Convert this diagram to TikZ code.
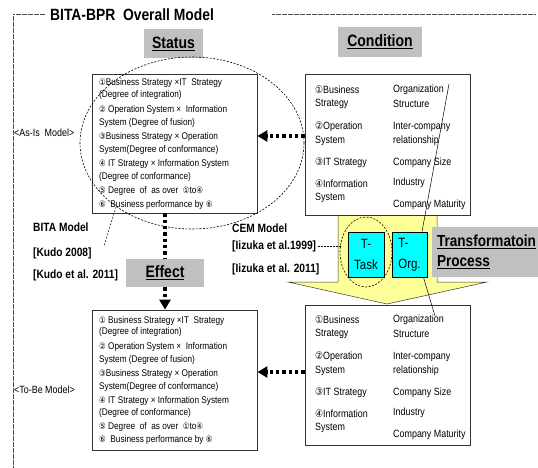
\documentclass[tikz,border=0pt]{standalone}
\usepackage{fontspec}
\setmainfont{Liberation Sans}[FakeStretch=0.85]
\newfontfamily\symf{DejaVu Sans}[FakeStretch=0.85]
\usetikzlibrary{arrows.meta,shapes.geometric,calc}
\newcommand\cn[1]{{\symf\fontsize{8.8}{9}\selectfont #1}}
\definecolor{hdr}{HTML}{C0C0C0}
\definecolor{yel}{HTML}{FFFF99}
\definecolor{cya}{HTML}{00FFFF}
\tikzset{
  box/.style={draw=black!80, line width=0.8pt, fill=white, inner sep=0pt},
  hdrbox/.style={fill=hdr, inner sep=0pt, font=\fontsize{16.5}{18}\selectfont\bfseries},
  lt/.style={anchor=west, inner sep=0pt, font=\fontsize{9.7}{10}\selectfont},
  rt/.style={anchor=west, inner sep=0pt, font=\fontsize{10.5}{12}\selectfont},
  lab/.style={anchor=west, inner sep=0pt, font=\fontsize{12}{14}\selectfont\bfseries},
  side/.style={anchor=west, inner sep=0pt, font=\fontsize{10.5}{12}\selectfont},
  frameline/.style={draw=black!70, line width=0.5pt, dash pattern=on 0.6pt off 0.6pt},
  bigdot/.style={line width=3.4pt, dash pattern=on 3.3pt off 3pt, -{Triangle[length=10pt,width=11pt]}},
  bigdotplain/.style={line width=3.4pt, dash pattern=on 3.3pt off 3pt},
  tbox/.style={draw=black, line width=0.8pt, fill=cya, inner sep=0pt, font=\fontsize{13.5}{21}\selectfont},
  dashell/.style={draw=black, line width=0.6pt, dash pattern=on 2pt off 1.5pt, ellipse, inner sep=0pt},
  thin/.style={draw=black, line width=0.5pt}
}
\begin{document}
\begin{tikzpicture}[x=1pt,y=-1pt]
\useasboundingbox (0,0) rectangle (538,467);
% frame and title
\node[anchor=west, inner sep=0pt, font=\fontsize{16.3}{18}\selectfont\bfseries] (title) at (50,15) {BITA-BPR\ \ Overall Model};
\coordinate (fbl) at (13,467);
\coordinate (fr1) at (272,14);
\coordinate (fr2) at (535,14);
\draw[frameline] ([xshift=-5pt,yshift=1pt]title.west) -- (13,14) -- (fbl);
\draw[frameline] (fr1) -- (fr2);
% yellow block arrow
\draw[fill=yel, draw=black!80, line width=0.5pt] (338,215) -- (437,215) -- (437,282) -- (487,282) -- (387,304) -- (288,282) -- (338,282) -- cycle;
% headers
\node[hdrbox, minimum width=59pt, minimum height=29pt] (hs) at (173.5,43.5) {\underline{Status}};
\node[hdrbox, minimum width=84pt, minimum height=30pt] (hc) at (380,42) {\underline{Condition}};
\node[hdrbox, minimum width=78pt, minimum height=28pt] (ef) at (165,273) {\underline{Effect}};
% boxes
\node[box, minimum width=165pt, minimum height=139pt] (s1) at (174.5,143.5) {};
\node[box, minimum width=165pt, minimum height=140pt] (s2) at (174.5,380) {};
\node[box, minimum width=165pt, minimum height=141pt] (c1) at (387.5,144.5) {};
\node[box, minimum width=165pt, minimum height=140pt] (c2) at (387.5,375) {};
% upper-left texts
\node[lt] (u1) at (99,83) {\cn{①}Business Strategy ×IT\ \ Strategy};
\node[lt] (u2) at (99,95) {(Degree of integration)};
\node[lt] (u3) at (99,110) {\cn{②} Operation System ×\ \ Information};
\node[lt] (u4) at (99,123) {System (Degree of fusion)};
\node[lt] (u5) at (99,137) {\cn{③}Business Strategy × Operation};
\node[lt] (u6) at (99,150) {System(Degree of conformance)};
\node[lt] (u7) at (99,164) {\cn{④} IT Strategy × Information System};
\node[lt] (u8) at (99,177) {(Degree of conformance)};
\node[lt] (u9) at (99,191) {\cn{⑤} Degree\ \ of\ \ as over\ \ \cn{①}to\cn{④}};
\node[lt] (u10) at (99,205) {\cn{⑥}\ \ Business performance by \cn{⑥}};
% lower-left texts
\node[lt] (d1) at (99,321) {\cn{①} Business Strategy ×IT\ \ Strategy};
\node[lt] (d2) at (99,332) {(Degree of integration)};
\node[lt] (d3) at (99,347) {\cn{②} Operation System ×\ \ Information};
\node[lt] (d4) at (99,360) {System (Degree of fusion)};
\node[lt] (d5) at (99,374) {\cn{③}Business Strategy × Operation};
\node[lt] (d6) at (99,387) {System(Degree of conformance)};
\node[lt] (d7) at (99,401) {\cn{④} IT Strategy × Information System};
\node[lt] (d8) at (99,413) {(Degree of conformance)};
\node[lt] (d9) at (99,427) {\cn{⑤} Degree\ \ of\ \ as over\ \ \cn{①}to\cn{④}};
\node[lt] (d10) at (99,440) {\cn{⑥}\ \ Business performance by \cn{⑥}};
% upper-right texts
\node[rt] (a1) at (315,90) {{\symf ①}Business};
\node[rt] (a2) at (315,104) {Strategy};
\node[rt] (a3) at (315,127) {{\symf ②}Operation};
\node[rt] (a4) at (315,141) {System};
\node[rt] (a5) at (315,163) {{\symf ③}IT Strategy};
\node[rt] (a6) at (315,184) {{\symf ④}Information};
\node[rt] (a7) at (315,198) {System};
\node[rt] (b1) at (393,90) {Organization};
\node[rt] (b2) at (393,104) {Structure};
\node[rt] (b3) at (393,127) {Inter-company};
\node[rt] (b4) at (393,141) {relationship};
\node[rt] (b5) at (393,163) {Company Size};
\node[rt] (b6) at (393,183) {Industry};
\node[rt] (b7) at (393,205) {Company Maturity};
% lower-right texts
\node[rt] (e1) at (315,320) {{\symf ①}Business};
\node[rt] (e2) at (315,334) {Strategy};
\node[rt] (e3) at (315,357) {{\symf ②}Operation};
\node[rt] (e4) at (315,371) {System};
\node[rt] (e5) at (315,393) {{\symf ③}IT Strategy};
\node[rt] (e6) at (315,414) {{\symf ④}Information};
\node[rt] (e7) at (315,428) {System};
\node[rt] (f1) at (393,320) {Organization};
\node[rt] (f2) at (393,334) {Structure};
\node[rt] (f3) at (393,357) {Inter-company};
\node[rt] (f4) at (393,371) {relationship};
\node[rt] (f5) at (393,393) {Company Size};
\node[rt] (f6) at (393,413) {Industry};
\node[rt] (f7) at (393,435) {Company Maturity};
% transformation header
\node[hdrbox, font=\fontsize{16}{20}\selectfont\bfseries, text width=96pt, minimum height=50pt, inner xsep=5pt, align=left] (tp) at (485,252) {\underline{Transformatoin}\\\underline{Process}};
% cyan boxes
\node[tbox, minimum width=36pt, minimum height=45pt, align=center] (tt) at (366,254.5) {T-\\Task};
\node[tbox, minimum width=35pt, minimum height=45pt, align=left] (to) at (409.5,254.5) {T-\kern6pt\null\\Org.};
% side labels
\node[side] (asis) at (14,133) {<As-Is\ \ Model>};
\node[side] (tobe) at (14,390) {<To-Be Model>};
\node[lab] (bita) at (33,227) {BITA Model};
\node[lab] (k1) at (33,253) {[Kudo 2008]};
\node[lab] (k2) at (33,275) {[Kudo et al. 2011]};
\node[lab] (cem) at (232,228) {CEM Model};
\node[lab] (iz1) at (232,246) {[Iizuka et al.1999]};
\node[lab] (iz2) at (232,269) {[Iizuka et al. 2011]};
% ellipses
\node[dashell, minimum width=224pt, minimum height=172pt] (be) at (192,143) {};
\node[dashell, minimum width=52pt, minimum height=70pt] (te) at (366,252) {};
\coordinate (bl) at (104,246);
\draw[thin, dash pattern=on 2pt off 1.5pt] (be.220) -- (bl);
\draw[thin, dash pattern=on 1.5pt off 1.5pt] ([xshift=2pt]iz1.east) -- ([xshift=2pt]iz1.east -| te.west);
% thin lines to T-Org
\coordinate (o1) at (449,84);
\coordinate (o2) at (435,316);
\draw[thin] (o1) -- ($(to.north)!0.7!(to.north east)$);
\draw[thin] ($(to.south)!0.78!(to.south east)$) -- (o2);
% big dotted arrows
\draw[bigdot] ([yshift=8.5pt]c1.west) -- ([yshift=8.5pt]c1.west -| s1.east);
\draw[bigdot] ([yshift=3pt]c2.west) -- ([yshift=3pt]c2.west -| s2.east);
\draw[bigdotplain] (ef.north |- s1.south) -- (ef.north);
\draw[bigdot] (ef.south) -- (ef.south |- s2.north);
\end{tikzpicture}
\end{document}
